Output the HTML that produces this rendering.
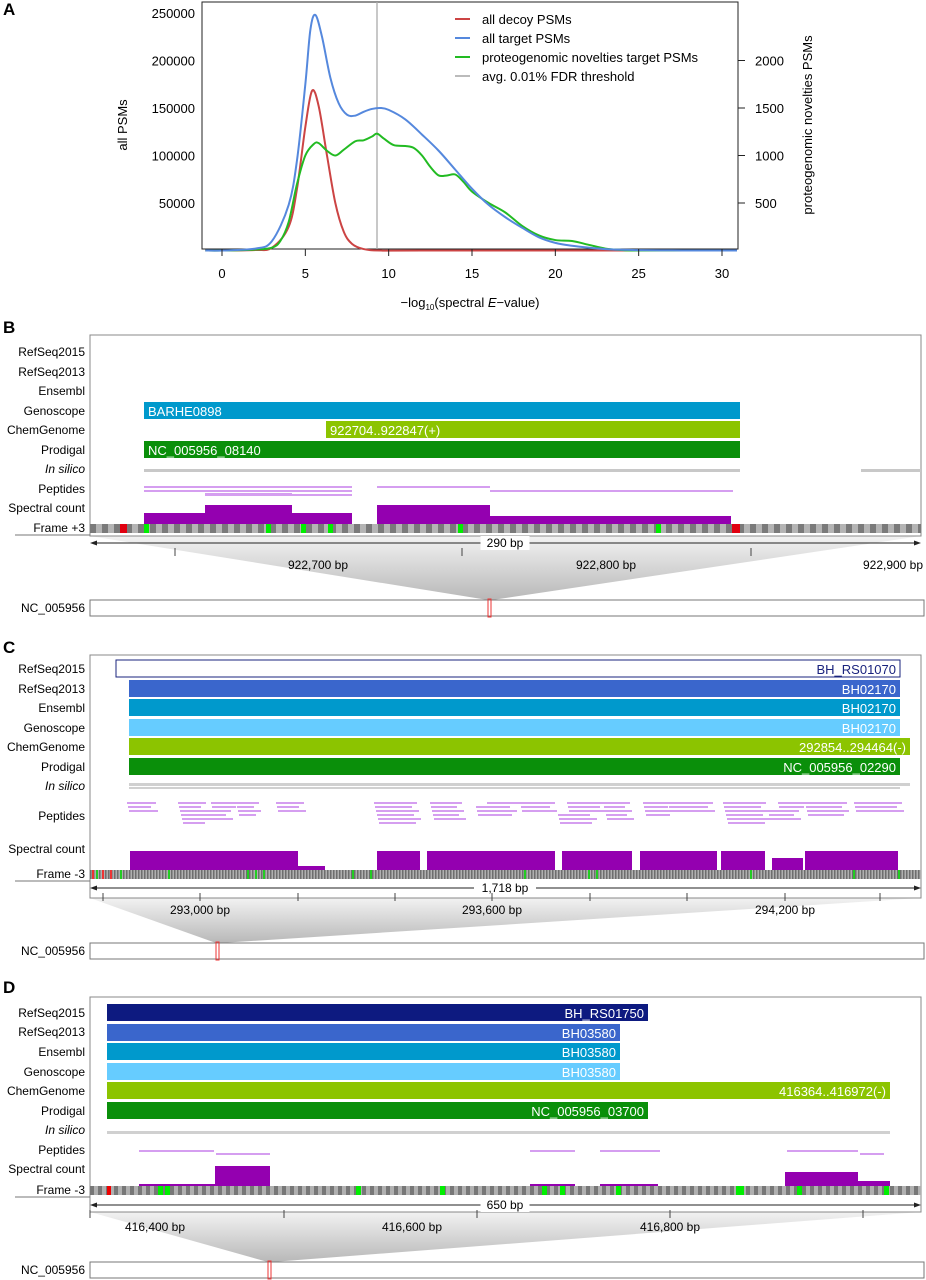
<!DOCTYPE html>
<html><head><meta charset="utf-8"><style>
body{margin:0;background:#fff}
svg{display:block;font-family:"Liberation Sans",Arial,sans-serif}
</style></head><body>
<svg id="fig" width="926" height="1280" viewBox="0 0 926 1280">
<defs>
<pattern id="chkB" width="12" height="9" patternUnits="userSpaceOnUse" x="90" y="524"><rect width="6" height="9" fill="#7a7a7a"/><rect x="6" width="6" height="9" fill="#b4b4b4"/></pattern>
<pattern id="chkF" width="3" height="9" patternUnits="userSpaceOnUse" x="90"><rect width="1.5" height="9" fill="#6e6e6e"/><rect x="1.5" width="1.5" height="9" fill="#b0b0b0"/></pattern>
<pattern id="chkD" width="8" height="9" patternUnits="userSpaceOnUse" x="90"><rect width="4" height="9" fill="#777"/><rect x="4" width="4" height="9" fill="#b0b0b0"/></pattern>
<linearGradient id="trap" x1="0" y1="0" x2="0" y2="1"><stop offset="0" stop-color="#f2f2f2"/><stop offset="1" stop-color="#b8b8b8"/></linearGradient>
</defs>
<g id="panelA"></g>
<g id="tracks"></g>
</svg>
<script>
// ---- Panel A data ----
const xTicks=[0,5,10,15,20,25,30];
const yLeftTicks=[50000,100000,150000,200000,250000];
const yRightTicks=[500,1000,1500,2000];
const decoyX=[-1,0,2,3,4,4.5,5,5.4,5.8,6.3,6.8,7.3,7.8,8.5,9.5,12,31];
const decoyY=[0,0,500,3000,25000,65000,130000,168000,152000,100000,50000,20000,7000,1500,0,0,0];
const targetX=[-1,0,2,3,4,4.5,5,5.3,5.6,6,6.5,7,7.5,8,8.5,9,9.5,10,11,12,13,14,15,16,17,18,19,20,21,22,23,24,25,27,29,31];
const targetY=[0,0,2000,10000,48000,95000,175000,232000,248000,225000,182000,155000,143000,142000,146000,149000,150000,148000,138000,122000,105000,85000,65000,48000,35000,24000,14000,8000,5000,3000,1500,800,400,100,0,0];
const novelX=[-1,0,2,3,3.5,4,4.5,5,5.5,5.8,6.3,6.8,7.3,8,8.5,9,9.3,9.7,10.3,11,11.5,12,12.5,13,13.5,14,14.5,15,16,17,18,19,20,21,22,23,24,25,31];
const novelY=[0,0,10,30,100,300,700,1000,1120,1130,1050,1000,1060,1150,1160,1200,1230,1180,1110,1100,1080,1000,880,790,790,800,720,620,500,400,260,160,110,100,60,20,5,0,0];
const fdrThreshold=9.3;
const legendLabels=["all decoy PSMs","all target PSMs","proteogenomic novelties target PSMs","avg. 0.01% FDR threshold"];
const legendColors=["#cc4444","#5588dd","#22bb22","#bbbbbb"];

const NS="http://www.w3.org/2000/svg";
function mk(parent,tag,attrs,text){const e=document.createElementNS(NS,tag);for(const k in attrs)e.setAttribute(k,attrs[k]);if(text!==undefined)e.textContent=text;parent.appendChild(e);return e;}
const A=document.getElementById('panelA');
const xS=v=>222+v*(500/30);
const yL=v=>250.5-v*(47.5/50000);
const yR=v=>250.5-v*(95/1000);
let t=mk(A,'text',{x:3,y:15,'font-size':17,'font-weight':'bold'},'A');

let box=mk(A,'rect',{x:202,y:2,width:536,height:247,fill:'none',stroke:'#222','stroke-width':1});

let thr=mk(A,'line',{x1:xS(fdrThreshold),x2:xS(fdrThreshold),y1:2,y2:249,stroke:'#aaa','stroke-width':1.3});

function smooth(xs,ys,fy){const p=xs.map((x,i)=>[Math.min(Math.max(xS(x),203),737),fy(ys[i])]);let d='M'+p[0][0]+','+p[0][1];for(let i=0;i<p.length-1;i++){const p0=p[i-1]||p[i],p1=p[i],p2=p[i+1],p3=p[i+2]||p2;const c1=[p1[0]+(p2[0]-p0[0])/6,p1[1]+(p2[1]-p0[1])/6],c2=[p2[0]-(p3[0]-p1[0])/6,p2[1]-(p3[1]-p1[1])/6];d+=`C${c1[0]},${c1[1]} ${c2[0]},${c2[1]} ${p2[0]},${p2[1]}`;}return d;}
let l1=mk(A,'path',{d:smooth(decoyX,decoyY,yL),fill:'none',stroke:legendColors[0],'stroke-width':2});

let l3=mk(A,'path',{d:smooth(novelX,novelY,yR),fill:'none',stroke:legendColors[2],'stroke-width':2});

let l2=mk(A,'path',{d:smooth(targetX,targetY,yL),fill:'none',stroke:legendColors[1],'stroke-width':2});

xTicks.forEach(v=>{mk(A,'line',{x1:xS(v),x2:xS(v),y1:249,y2:256,stroke:'#222'});
 let e=mk(A,'text',{x:xS(v),y:278,'font-size':13,'text-anchor':'middle'},v);
 });
yLeftTicks.forEach(v=>{let e=mk(A,'text',{x:195,y:yL(v)+5,'font-size':13,'text-anchor':'end'},v);
 });
yRightTicks.forEach(v=>{mk(A,'line',{x1:738,x2:745,y1:yR(v),y2:yR(v),stroke:'#222'});
 let e=mk(A,'text',{x:755,y:yR(v)+5,'font-size':13},v);
 });
let yt=mk(A,'text',{transform:'translate(127,125) rotate(-90)','font-size':13,'text-anchor':'middle'},'all PSMs');

let yt2=mk(A,'text',{transform:'translate(812,125) rotate(-90)','font-size':13,'text-anchor':'middle'},'proteogenomic novelties PSMs');

let xt=mk(A,'text',{x:470,y:307,'font-size':13,'text-anchor':'middle'});
xt.innerHTML='\u2212log<tspan font-size="8" dy="3">10</tspan><tspan dy="-3">(spectral </tspan><tspan font-style="italic">E</tspan>\u2212value)';

legendLabels.forEach((s,i)=>{const y=19+i*19;
 let g=mk(A,'g',{});
 mk(g,'line',{x1:455,x2:470,y1:y,y2:y,stroke:legendColors[i],'stroke-width':2});
 mk(g,'text',{x:482,y:y+5,'font-size':13},s);});

// ---- Track panels ----
const T=document.getElementById('tracks');
function txt(p,x,y,s,o={}){const e=mk(p,'text',Object.assign({x,y,'font-size':12},o),s);return e;}
function label(p,y,s,it){const e=txt(p,85,y+4,s,{'text-anchor':'end','font-style':it?'italic':'normal'});}
function bar(p,x1,x2,y,h,fill,s,anchor,name,stroke){const g=mk(p,'g',{});
 mk(g,'rect',{x:x1,y:y,width:x2-x1,height:h,fill:fill,stroke:stroke||'none'});
 if(s){txt(g,anchor==='end'?x2-4:x1+4,y+h-3,s,{fill:stroke&&fill==='#fff'?'#1a237e':'#fff','font-size':13,'text-anchor':anchor==='end'?'end':'start'});}}
function steps(p,segs,base){const g=mk(p,'g',{});
 segs.forEach(s=>mk(g,'rect',{x:s[0],y:s[2],width:s[1]-s[0],height:base-s[2],fill:'#9400b0'}));}
function peps(p,lines){const g=mk(p,'g',{});
 lines.forEach(l=>mk(g,'rect',{x:l[0],y:l[2],width:l[1]-l[0],height:2,fill:'#d59ef0'}));}
function panel(o){
 const p=mk(T,'g',{});
 let L=txt(p,3,o.ly,o.letter,{'font-size':17,'font-weight':'bold'});
 mk(p,'polygon',{points:`90,${o.bot} 921,${o.bot} ${o.nc+2},${o.ncY} ${o.nc-2},${o.ncY}`,fill:'url(#trap)'});
 mk(p,'rect',{x:90,y:o.top,width:831,height:o.bot-o.top,fill:'#fff',stroke:'#888'});
 o.rows.forEach((r,i)=>label(p,r,o.labels[i],o.labels[i]==='In silico'));
 return p;}
const labels=['RefSeq2015','RefSeq2013','Ensembl','Genoscope','ChemGenome','Prodigal','In silico','Peptides','Spectral count'];
function frame(p,y,fill,name,marks,lbl){mk(p,'line',{x1:15,x2:90,y1:y+11,y2:y+11,stroke:'#777'});
 let f=mk(p,'rect',{x:90,y:y,width:831,height:9,fill:fill});
 marks.forEach(m=>mk(p,'rect',{x:m[0],y:y,width:m[2]||5,height:9,fill:m[1]}));
 txt(p,85,y+8,lbl,{'text-anchor':'end'});}
function scale(p,y,s,ticks,tlabels){mk(p,'line',{x1:92,x2:919,y1:y,y2:y,stroke:'#222'});
 mk(p,'polygon',{points:`90,${y} 97,${y-2.5} 97,${y+2.5}`,fill:'#222'});mk(p,'polygon',{points:`921,${y} 914,${y-2.5} 914,${y+2.5}`,fill:'#222'});
 let w=s.length*6.5+10;mk(p,'rect',{x:505-w/2,y:y-7,width:w,height:14,fill:'#fff'});
 txt(p,505,y+4,s,{'text-anchor':'middle'});
 ticks.forEach(x=>mk(p,'line',{x1:x,x2:x,y1:y+5,y2:y+13,stroke:'#444'}));
 tlabels.forEach(l=>{let e=txt(p,l[0],y+26,l[1],{'text-anchor':'middle'});});}
function chrom(p,y,x){let g=mk(p,'g',{});
 mk(g,'rect',{x:90,y:y,width:834,height:16,fill:'#fff',stroke:'#777'});
 mk(g,'rect',{x:x-2,y:y-1,width:3,height:18,fill:'none',stroke:'#e33','stroke-width':1});
 txt(g,85,y+12,'NC_005956',{'text-anchor':'end'});}

// Panel B
let pB=panel({name:'panel-b',letter:'B',ly:333,top:335,bot:536,nc:490,ncY:600,rows:[352,372,391,411,430,450,469,489,508],labels});
bar(pB,144,740,402,17,'#0099cc','BARHE0898','start','genoscope-bar');
bar(pB,326,740,421,17,'#8cc400','922704..922847(+)','start','chemgenome-bar');
bar(pB,144,740,441,17,'#0a8f0a','NC_005956_08140','start','prodigal-bar');
mk(pB,'rect',{x:144,y:469,width:596,height:3,fill:'#c8c8c8'});mk(pB,'rect',{x:861,y:469,width:60,height:3,fill:'#c8c8c8'});
peps(pB,[[144,352,486],[144,352,490],[205,292,493],[205,352,494],[377,490,486],[490,733,490]]);
steps(pB,[[144,205,513],[205,292,505],[292,352,513],[377,490,505],[490,731,516]],525);
frame(pB,524,'url(#chkB)','frame',[[120,'#e00010',7],[144,'#00ee00'],[266,'#00ee00'],[301,'#00ee00'],[328,'#00ee00'],[458,'#00ee00'],[656,'#00ee00'],[732,'#e00010',8]],'Frame +3');
scale(pB,543,'290 bp',[175,462,751],[[318,'922,700 bp'],[606,'922,800 bp'],[893,'922,900 bp']]);
chrom(pB,600,490);

// Panel C
let pC=panel({name:'panel-c',letter:'C',ly:653,top:655,bot:898,nc:218,ncY:943,rows:[669,689,708,728,747,767,786,816,849],labels});
bar(pC,116,900,660,17,'#fff','BH_RS01070','end','refseq2015-bar','#1a237e');
bar(pC,129,900,680,17,'#3a66cc','BH02170','end','refseq2013-bar');
bar(pC,129,900,699,17,'#0099cc','BH02170','end','ensembl-bar');
bar(pC,129,900,719,17,'#66ccff','BH02170','end','genoscope-bar');
bar(pC,129,910,738,17,'#8cc400','292854..294464(-)','end','chemgenome-bar');
bar(pC,129,900,758,17,'#0a8f0a','NC_005956_02290','end','prodigal-bar');
mk(pC,'rect',{x:129,y:783,width:781,height:3,fill:'#d0d0d0'});mk(pC,'rect',{x:129,y:787,width:771,height:2,fill:'#d0d0d0'});
(function(){const L=[];const cols=[[131,160],[177,205],[205,235],[237,260],[272,300],[377,420],[428,460],[480,520],[520,555],[562,600],[605,632],[640,670],[672,717],[722,765],[772,803],[806,848],[850,898]];
 cols.forEach((c,i)=>{const n=3+(i*7)%4;for(let k=0;k<n;k++){const dx=((k*13+i*5)%12)-4;L.push([c[0]+dx,c[1]+dx-(k%2)*6,802+k*4]);}});
 peps(pC,L);})();
steps(pC,[[130,298,851],[298,325,866],[377,420,851],[427,520,851],[520,555,851],[562,632,851],[640,717,851],[721,765,851],[772,803,858],[805,898,851]],871);
frame(pC,870,'url(#chkF)','frame',[[92,'#e33',2],[102,'#e33',2],[110,'#e33',2],[96,'#2c2',2],[120,'#2c2',2],[168,'#2c2',2],[247,'#2c2',2],[255,'#2c2',2],[263,'#2c2',2],[352,'#2c2',2],[370,'#2c2',2],[524,'#2c2',2],[588,'#2c2',2],[596,'#2c2',2],[750,'#2c2',2],[853,'#2c2',2],[898,'#2c2',2]],'Frame -3');
scale(pC,888,'1,718 bp',[103,200,298,395,492,590,687,785,880],[[200,'293,000 bp'],[492,'293,600 bp'],[785,'294,200 bp']]);
chrom(pC,943,218);

// Panel D
let pD=panel({name:'panel-d',letter:'D',ly:993,top:997,bot:1212,nc:270,ncY:1262,rows:[1013,1032,1052,1072,1091,1111,1130,1150,1169],labels});
bar(pD,107,648,1004,17,'#0d1a80','BH_RS01750','end','refseq2015-bar');
bar(pD,107,620,1024,17,'#3a66cc','BH03580','end','refseq2013-bar');
bar(pD,107,620,1043,17,'#0099cc','BH03580','end','ensembl-bar');
bar(pD,107,620,1063,17,'#66ccff','BH03580','end','genoscope-bar');
bar(pD,107,890,1082,17,'#8cc400','416364..416972(-)','end','chemgenome-bar');
bar(pD,107,648,1102,17,'#0a8f0a','NC_005956_03700','end','prodigal-bar');
mk(pD,'rect',{x:107,y:1131,width:783,height:3,fill:'#d0d0d0'});
peps(pD,[[139,214,1150],[216,270,1153],[530,575,1150],[600,660,1150],[787,858,1150],[860,884,1153]]);
steps(pD,[[139,215,1184],[215,270,1166],[530,575,1184],[600,658,1184],[785,858,1172],[858,890,1181]],1187);
frame(pD,1186,'url(#chkD)','frame',[[107,'#e00',4],[158,'#0e0'],[165,'#0e0'],[356,'#0e0'],[440,'#0e0'],[542,'#0e0'],[560,'#0e0'],[616,'#0e0'],[736,'#0e0',8],[797,'#0e0'],[884,'#0e0']],'Frame -3');
scale(pD,1205,'650 bp',[90,284,477,670,863],[[155,'416,400 bp'],[412,'416,600 bp'],[670,'416,800 bp']]);
chrom(pD,1262,270);
</script>
</body></html>
